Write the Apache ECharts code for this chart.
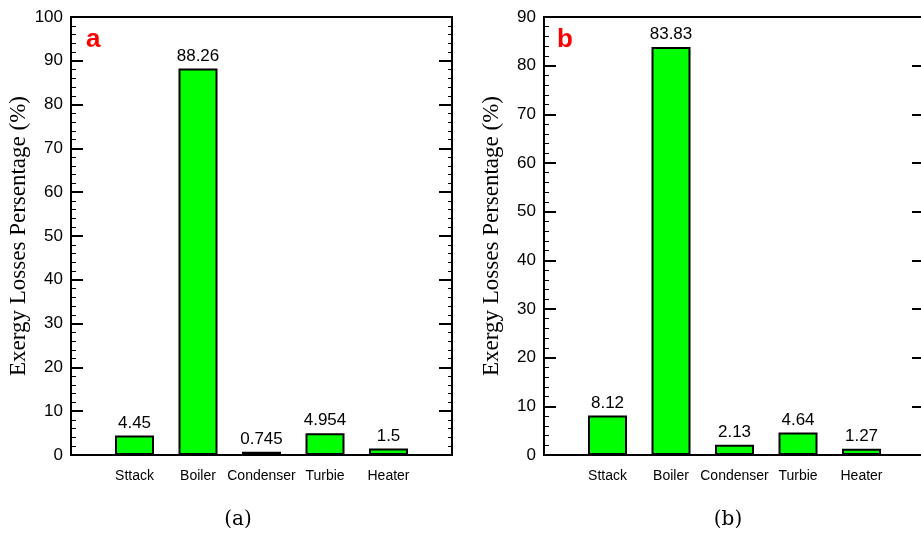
<!DOCTYPE html>
<html>
<head>
<meta charset="utf-8">
<script src="https://cdn.jsdelivr.net/npm/echarts@6/dist/echarts.min.js"></script>
<style>
  html, body { margin: 0; padding: 0; background: #fff; }
  #chart { width: 921px; height: 533px; }
</style>
</head>
<body>
<div id="chart"></div>
<script>
// Exergy loss shares of the plant components, two operating cases
const components = ['Sttack', 'Boiler', 'Condenser', 'Turbie', 'Heater'];
const lossesA = [4.45, 88.26, 0.745, 4.954, 1.5];
const lossesB = [8.12, 83.83, 2.13, 4.64, 1.27];
const yTicksA = { min: 0, max: 100, interval: 10 };
const yTicksB = { min: 0, max: 90, interval: 10 };
const axisTitle = 'Exergy Losses Persentage (%)';

// empty slots at both ends keep the bars off the frame edges
const padCats = ['', ...components, ''];
const pad = arr => [null, ...arr, null];

const SANS = '"Liberation Sans", Arial, sans-serif';
const SERIF = '"Liberation Serif", "Times New Roman", serif';

function grid(left, right) {
  return { left: left, right: right, top: 17, height: 438, show: true,
           outerBoundsMode: 'none', containLabel: false,
           borderColor: '#000', borderWidth: 2, backgroundColor: 'transparent' };
}

function xAxis(idx) {
  return {
    type: 'category', gridIndex: idx, data: padCats, boundaryGap: false,
    axisLine: { show: true, lineStyle: { color: '#000', width: 2 } },
    axisTick: { show: false },
    axisLabel: { interval: 0, color: '#000', fontSize: 14, fontFamily: SANS, margin: 14 },
    splitLine: { show: false }
  };
}

function yLeft(idx, t) {
  return {
    type: 'value', gridIndex: idx, min: t.min, max: t.max, interval: t.interval,
    name: axisTitle, nameLocation: 'middle', nameGap: 41,
    nameTextStyle: { color: '#000', fontSize: 23, fontFamily: SERIF },
    axisLine: { show: true, lineStyle: { color: '#000', width: 2 } },
    axisTick: { show: true, inside: true, length: 12, lineStyle: { color: '#000', width: 2 } },
    minorTick: { show: true, splitNumber: 5, length: 5, lineStyle: { color: '#000', width: 1 } },
    axisLabel: { color: '#000', fontSize: 17, fontFamily: SANS, margin: 8 },
    splitLine: { show: false }
  };
}

function yRight(idx, t) {
  return {
    type: 'value', gridIndex: idx, position: 'right', min: t.min, max: t.max, interval: t.interval,
    axisLine: { show: true, lineStyle: { color: '#000', width: 2 } },
    axisTick: { show: true, inside: true, length: 13, lineStyle: { color: '#000', width: 2 } },
    minorTick: { show: true, splitNumber: 5, length: 4, lineStyle: { color: '#000', width: 1 } },
    axisLabel: { show: false },
    splitLine: { show: false }
  };
}

function bars(idx, values) {
  return {
    type: 'bar', xAxisIndex: idx, yAxisIndex: idx * 2, data: pad(values), barWidth: 39,
    itemStyle: { color: '#00ff00', borderColor: '#000', borderWidth: 2 },
    label: { show: true, position: 'top', distance: 4, color: '#000', fontSize: 17, fontFamily: SANS },
    animation: false
  };
}

const chart = echarts.init(document.getElementById('chart'), null, { renderer: 'canvas' });
chart.setOption({
  animation: false,
  backgroundColor: '#fff',
  grid: [grid(71, 469), grid(544, -4)],
  xAxis: [xAxis(0), xAxis(1)],
  yAxis: [yLeft(0, yTicksA), yRight(0, yTicksA), yLeft(1, yTicksB), yRight(1, yTicksB)],
  series: [bars(0, lossesA), bars(1, lossesB)],
  graphic: [
    { type: 'text', left: 86, top: 27, style: { text: 'a', fill: '#ff0000', font: 'bold 26px ' + SANS } },
    { type: 'text', left: 557, top: 27, style: { text: 'b', fill: '#ff0000', font: 'bold 26px ' + SANS } },
    { type: 'text', x: 238, y: 520, style: { text: '(a)', fill: '#000', font: '20px "DejaVu Serif", serif', align: 'center', verticalAlign: 'middle' } },
    { type: 'text', x: 728, y: 520, style: { text: '(b)', fill: '#000', font: '20px "DejaVu Serif", serif', align: 'center', verticalAlign: 'middle' } }
  ]
});
</script>
</body>
</html>
